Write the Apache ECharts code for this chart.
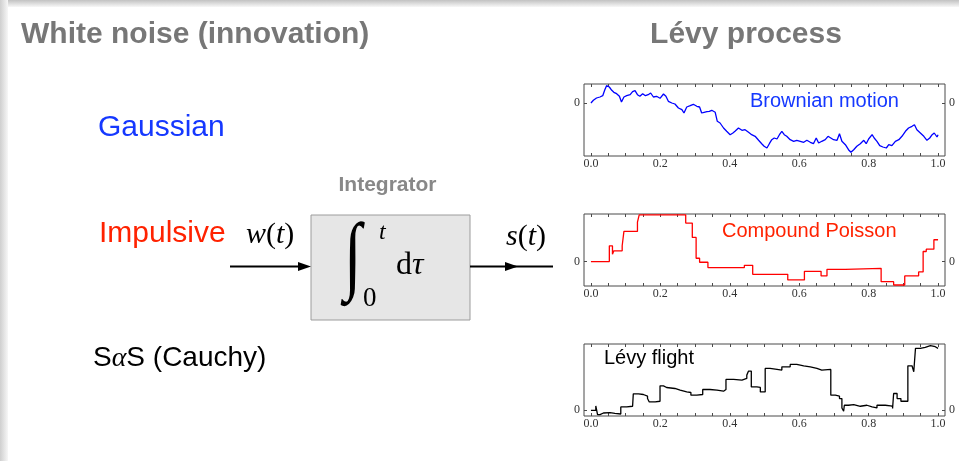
<!DOCTYPE html>
<html>
<head>
<meta charset="utf-8">
<script src="https://cdn.jsdelivr.net/npm/echarts@6/dist/echarts.min.js"></script>
<style>
html, body { margin: 0; padding: 0; background: #fff; }
#chart { width: 959px; height: 461px; }
</style>
</head>
<body>
<div id="chart"></div>
<script>
// Brownian motion (Gaussian innovation)
var bmT = [0, 0.007, 0.016, 0.026, 0.034, 0.040, 0.045, 0.053, 0.060, 0.066,
	0.074, 0.082, 0.088, 0.095, 0.103, 0.113, 0.120, 0.127, 0.134, 0.141,
	0.149, 0.157, 0.165, 0.172, 0.180, 0.189, 0.199, 0.209, 0.216, 0.223,
	0.233, 0.242, 0.252, 0.262, 0.268, 0.276, 0.286, 0.295, 0.305, 0.313,
	0.319, 0.326, 0.334, 0.341, 0.348, 0.358, 0.364, 0.372, 0.382, 0.391,
	0.401, 0.409, 0.415, 0.425, 0.435, 0.444, 0.454, 0.463, 0.473, 0.483,
	0.492, 0.499, 0.507, 0.514, 0.521, 0.528, 0.536, 0.543, 0.550, 0.557,
	0.564, 0.574, 0.584, 0.593, 0.603, 0.613, 0.622, 0.632, 0.641, 0.649,
	0.656, 0.665, 0.675, 0.683, 0.691, 0.699, 0.709, 0.716, 0.723, 0.733,
	0.742, 0.749, 0.757, 0.766, 0.776, 0.786, 0.793, 0.800, 0.810, 0.816,
	0.824, 0.832, 0.841, 0.851, 0.858, 0.867, 0.877, 0.887, 0.896, 0.906,
	0.915, 0.925, 0.932, 0.939, 0.949, 0.959, 0.968, 0.976, 0.983, 0.989,
	0.997, 1.000];
var bmV = [0, 2.7, 5, 6, 7.3, 13.3, 17.3, 16, 12.7, 10.7,
	9.3, 6.7, 1, 6, 7.3, 8.3, 11.3, 12.3, 8.3, 6.7,
	9.3, 7.3, 8.3, 10, 6, 6.7, 4.7, 9, 6.7, 1.7,
	0, -1, -5, -6.7, -10, -4, -2.7, -1.3, -3.3, -4,
	-10, -9.3, -8.7, -8.3, -7.3, -9.3, -18.3, -20, -25, -28.3,
	-31.7, -30, -28.3, -25, -27.3, -26.7, -29.3, -31.7, -33.3, -37.3,
	-40.7, -43.3, -45, -40.7, -36.7, -35, -36, -31.7, -28.3, -31.7,
	-33.3, -36.7, -38.3, -37.3, -38.3, -39.3, -37.3, -39.3, -40.7, -35,
	-40, -38.3, -36.7, -33.3, -35, -36.7, -37.3, -30.7, -38.3, -41.7,
	-46.7, -49.3, -46.7, -43.3, -40.7, -37.3, -40.7, -36, -31.7, -35,
	-38.3, -42.7, -44, -45, -41.7, -42.7, -38.3, -36.7, -33.3, -28.3,
	-25, -23.3, -21.7, -26.7, -30, -33.3, -37.3, -35, -31.7, -30,
	-34, -31.7];

// compound Poisson (impulsive innovation), jump times and levels
var cpT = [0, 0.053, 0.062, 0.066, 0.090, 0.095, 0.134, 0.139, 0.273, 0.292,
	0.303, 0.313, 0.337, 0.442, 0.466, 0.567, 0.615, 0.663, 0.680, 0.733,
	0.836, 0.872, 0.904, 0.944, 0.957, 0.966, 0.988, 1.000];
var cpV = [0, 15.7, 7.3, 10.7, 15.7, 30, 39.3, 46.5, 38.3, 24,
	3.3, -0.7, -6, -3.7, -12.7, -18.3, -9.7, -14.3, -7.7, -6.7,
	-20, -23.3, -14.3, -10.3, 10, 12.3, 21.7, 21.7];

// Levy flight (Cauchy innovation)
var levyT = [0, 0.014, 0.019, 0.026, 0.036, 0.055, 0.069, 0.086, 0.103, 0.120,
	0.122, 0.137, 0.151, 0.163, 0.168, 0.185, 0.199, 0.209, 0.218, 0.242,
	0.257, 0.276, 0.288, 0.305, 0.322, 0.343, 0.363, 0.382, 0.389, 0.411,
	0.435, 0.449, 0.454, 0.462, 0.478, 0.488, 0.502, 0.516, 0.536, 0.550,
	0.574, 0.593, 0.613, 0.632, 0.651, 0.665, 0.691, 0.704, 0.716, 0.723,
	0.728, 0.730, 0.742, 0.757, 0.776, 0.795, 0.810, 0.824, 0.848, 0.863,
	0.869, 0.872, 0.882, 0.893, 0.913, 0.925, 0.930, 0.935, 0.949, 0.963,
	0.978, 0.992, 1.000];
var levyV = [0, 4.3, -4.3, -2.7, -2.3, -3, -3.7, 3.3, 4, 3.3,
	16.3, 15.7, 14, 11.7, 8.3, 9, 24.3, 22.7, 21.7, 20,
	18.3, 17.7, 15, 15.7, 20.7, 20, 19, 20.7, 30.7, 30,
	31.7, 35, 39, 23.3, 22.7, 18.3, 41.7, 40.7, 40, 43.3,
	45.7, 44.3, 43.3, 41.7, 40, 40.7, 15, 14, 11.7, 2.3,
	-1, 5, 5.7, 4, 5, 3.3, 2.3, 5, 4.3, 4,
	1.7, 16.7, 11.7, 9, 44.3, 45, 38.3, 61.7, 62.7, 64.3,
	63.3, 61.7, 61];

var xLabels = [0, 0.2, 0.4, 0.6, 0.8, 1.0];
var xTicks = [0, 0.05, 0.1, 0.15, 0.2, 0.25, 0.3, 0.35, 0.4, 0.45, 0.5,
	0.55, 0.6, 0.65, 0.7, 0.75, 0.8, 0.85, 0.9, 0.95, 1.0];
var yLabels = [0];

var panelTops = [84, 214, 344];
var yRanges = [[-53, 19], [-24.3, 47.3], [-5.7, 66]];

var SANS = '"Liberation Sans", Arial, Helvetica, sans-serif';
var SERIF = '"Liberation Serif", "Times New Roman", serif';

function zip(t, v) {
	return t.map(function(x, i) { return [x, v[i]]; });
}

var grids = [], xAxes = [], yAxes = [];
panelTops.forEach(function(top, i) {
	grids.push({left: 584, right: 14, top: top, height: 72, show: true,
		borderColor: '#4a4a4a', borderWidth: 1, backgroundColor: 'transparent'});
	['bottom', 'top'].forEach(function(pos) {
		xAxes.push({
			type: 'value', gridIndex: i, position: pos, min: -0.02, max: 1.02,
			axisLine: {show: false, onZero: false}, splitLine: {show: false},
			axisTick: {show: true, inside: true, length: 3, customValues: xTicks,
				lineStyle: {color: '#4a4a4a'}},
			axisLabel: {show: pos === 'bottom', customValues: xLabels, margin: 2,
				fontFamily: SERIF, fontSize: 12, color: '#333',
				formatter: function(v) { return v.toFixed(1); }}
		});
	});
	['left', 'right'].forEach(function(pos) {
		yAxes.push({
			type: 'value', gridIndex: i, position: pos,
			min: yRanges[i][0], max: yRanges[i][1],
			axisLine: {show: false, onZero: false}, splitLine: {show: false},
			axisTick: {show: true, inside: true, length: 3, customValues: yLabels,
				lineStyle: {color: '#4a4a4a'}},
			axisLabel: {show: true, customValues: yLabels, margin: 4,
				fontFamily: SERIF, fontSize: 12, color: '#333'}
		});
	});
});

function seriesFor(i, data, color, step) {
	return {
		type: 'line', xAxisIndex: i * 2, yAxisIndex: i * 2,
		data: data, step: step, showSymbol: false, silent: true,
		lineStyle: {color: color, width: 1.3}
	};
}

function txt(x, y, text, font, fill, align) {
	return {type: 'text', x: x, y: y, silent: true,
		style: {text: text, font: font, fill: fill, align: align || 'left', verticalAlign: 'middle'}};
}

var graphic = [
	// slide shadow
	{type: 'rect', shape: {x: 0, y: 0, width: 959, height: 7},
		style: {fill: new echarts.graphic.LinearGradient(0, 0, 0, 1, [
			{offset: 0, color: '#c2c2c2'}, {offset: 1, color: '#f7f7f7'}])}},
	{type: 'rect', shape: {x: 0, y: 0, width: 8, height: 461},
		style: {fill: new echarts.graphic.LinearGradient(0, 0, 1, 0, [
			{offset: 0, color: '#cfcfcf'}, {offset: 1, color: '#f7f7f7'}])}},

	txt(21, 35, 'White noise (innovation)', 'bold 30px ' + SANS, '#777'),
	txt(746, 34.5, 'Lévy process', 'bold 30px ' + SANS, '#777', 'center'),

	txt(98, 128, 'Gaussian', '30px ' + SANS, '#1538ff'),
	txt(99, 234, 'Impulsive', '30px ' + SANS, '#ff2200'),
	{type: 'text', x: 93, y: 358.5, silent: true, style: {
		text: '{a|S}{b|α}{a|S (Cauchy)}', verticalAlign: 'middle',
		rich: {a: {font: '28px ' + SANS, fill: '#000'},
			b: {font: 'italic 28px ' + SERIF, fill: '#000'}}}},

	txt(387.5, 185.5, 'Integrator', 'bold 21px ' + SANS, '#888', 'center'),

	// integrator block
	{type: 'rect', shape: {x: 311, y: 215, width: 159, height: 105},
		style: {fill: '#e6e6e6', stroke: '#9c9c9c', lineWidth: 1}},
	{type: 'text', x: 344, y: 260, scaleY: 1.35, silent: true, style: {
		text: '∫', font: 'italic 64px ' + SERIF, fill: '#000', verticalAlign: 'middle'}},
	txt(379, 233, 't', 'italic 24px ' + SERIF, '#000'),
	txt(363, 299, '0', '27px ' + SERIF, '#000'),
	{type: 'text', x: 396, y: 266, silent: true, style: {
		text: '{r|d}{i|τ}', verticalAlign: 'middle',
		rich: {r: {font: '32px ' + SERIF, fill: '#000'},
			i: {font: 'italic 32px ' + SERIF, fill: '#000'}}}},

	{type: 'text', x: 246, y: 235, silent: true, style: {
		text: '{i|w}{r|(}{i|t}{r|)}', verticalAlign: 'middle',
		rich: {r: {font: '30px ' + SERIF, fill: '#000'},
			i: {font: 'italic 30px ' + SERIF, fill: '#000'}}}},
	{type: 'text', x: 506, y: 237.5, silent: true, style: {
		text: '{i|s}{r|(}{i|t}{r|)}', verticalAlign: 'middle',
		rich: {r: {font: '30px ' + SERIF, fill: '#000'},
			i: {font: 'italic 30px ' + SERIF, fill: '#000'}}}},

	// arrows
	{type: 'line', shape: {x1: 230, y1: 266.5, x2: 302, y2: 266.5}, style: {stroke: '#000', lineWidth: 2}},
	{type: 'polygon', shape: {points: [[311, 266.5], [298, 262], [298, 271]]}, style: {fill: '#000'}},
	{type: 'line', shape: {x1: 470, y1: 266.5, x2: 553, y2: 266.5}, style: {stroke: '#000', lineWidth: 2}},
	{type: 'polygon', shape: {points: [[518, 266.5], [505, 262], [505, 271]]}, style: {fill: '#000'}},

	// panel captions
	txt(750, 101.3, 'Brownian motion', '20px ' + SANS, '#1538ff'),
	txt(722, 231.3, 'Compound Poisson', '20px ' + SANS, '#ff2200'),
	txt(604, 358.2, 'Lévy flight', '20px ' + SANS, '#000')
];

var chart = echarts.init(document.getElementById('chart'));
chart.setOption({
	animation: false,
	backgroundColor: '#fff',
	grid: grids,
	xAxis: xAxes,
	yAxis: yAxes,
	series: [
		seriesFor(0, zip(bmT, bmV), '#0000ff', false),
		seriesFor(1, zip(cpT, cpV), '#ff0000', 'end'),
		seriesFor(2, zip(levyT, levyV), '#000000', 'end')
	],
	graphic: graphic
});
</script>
</body>
</html>
